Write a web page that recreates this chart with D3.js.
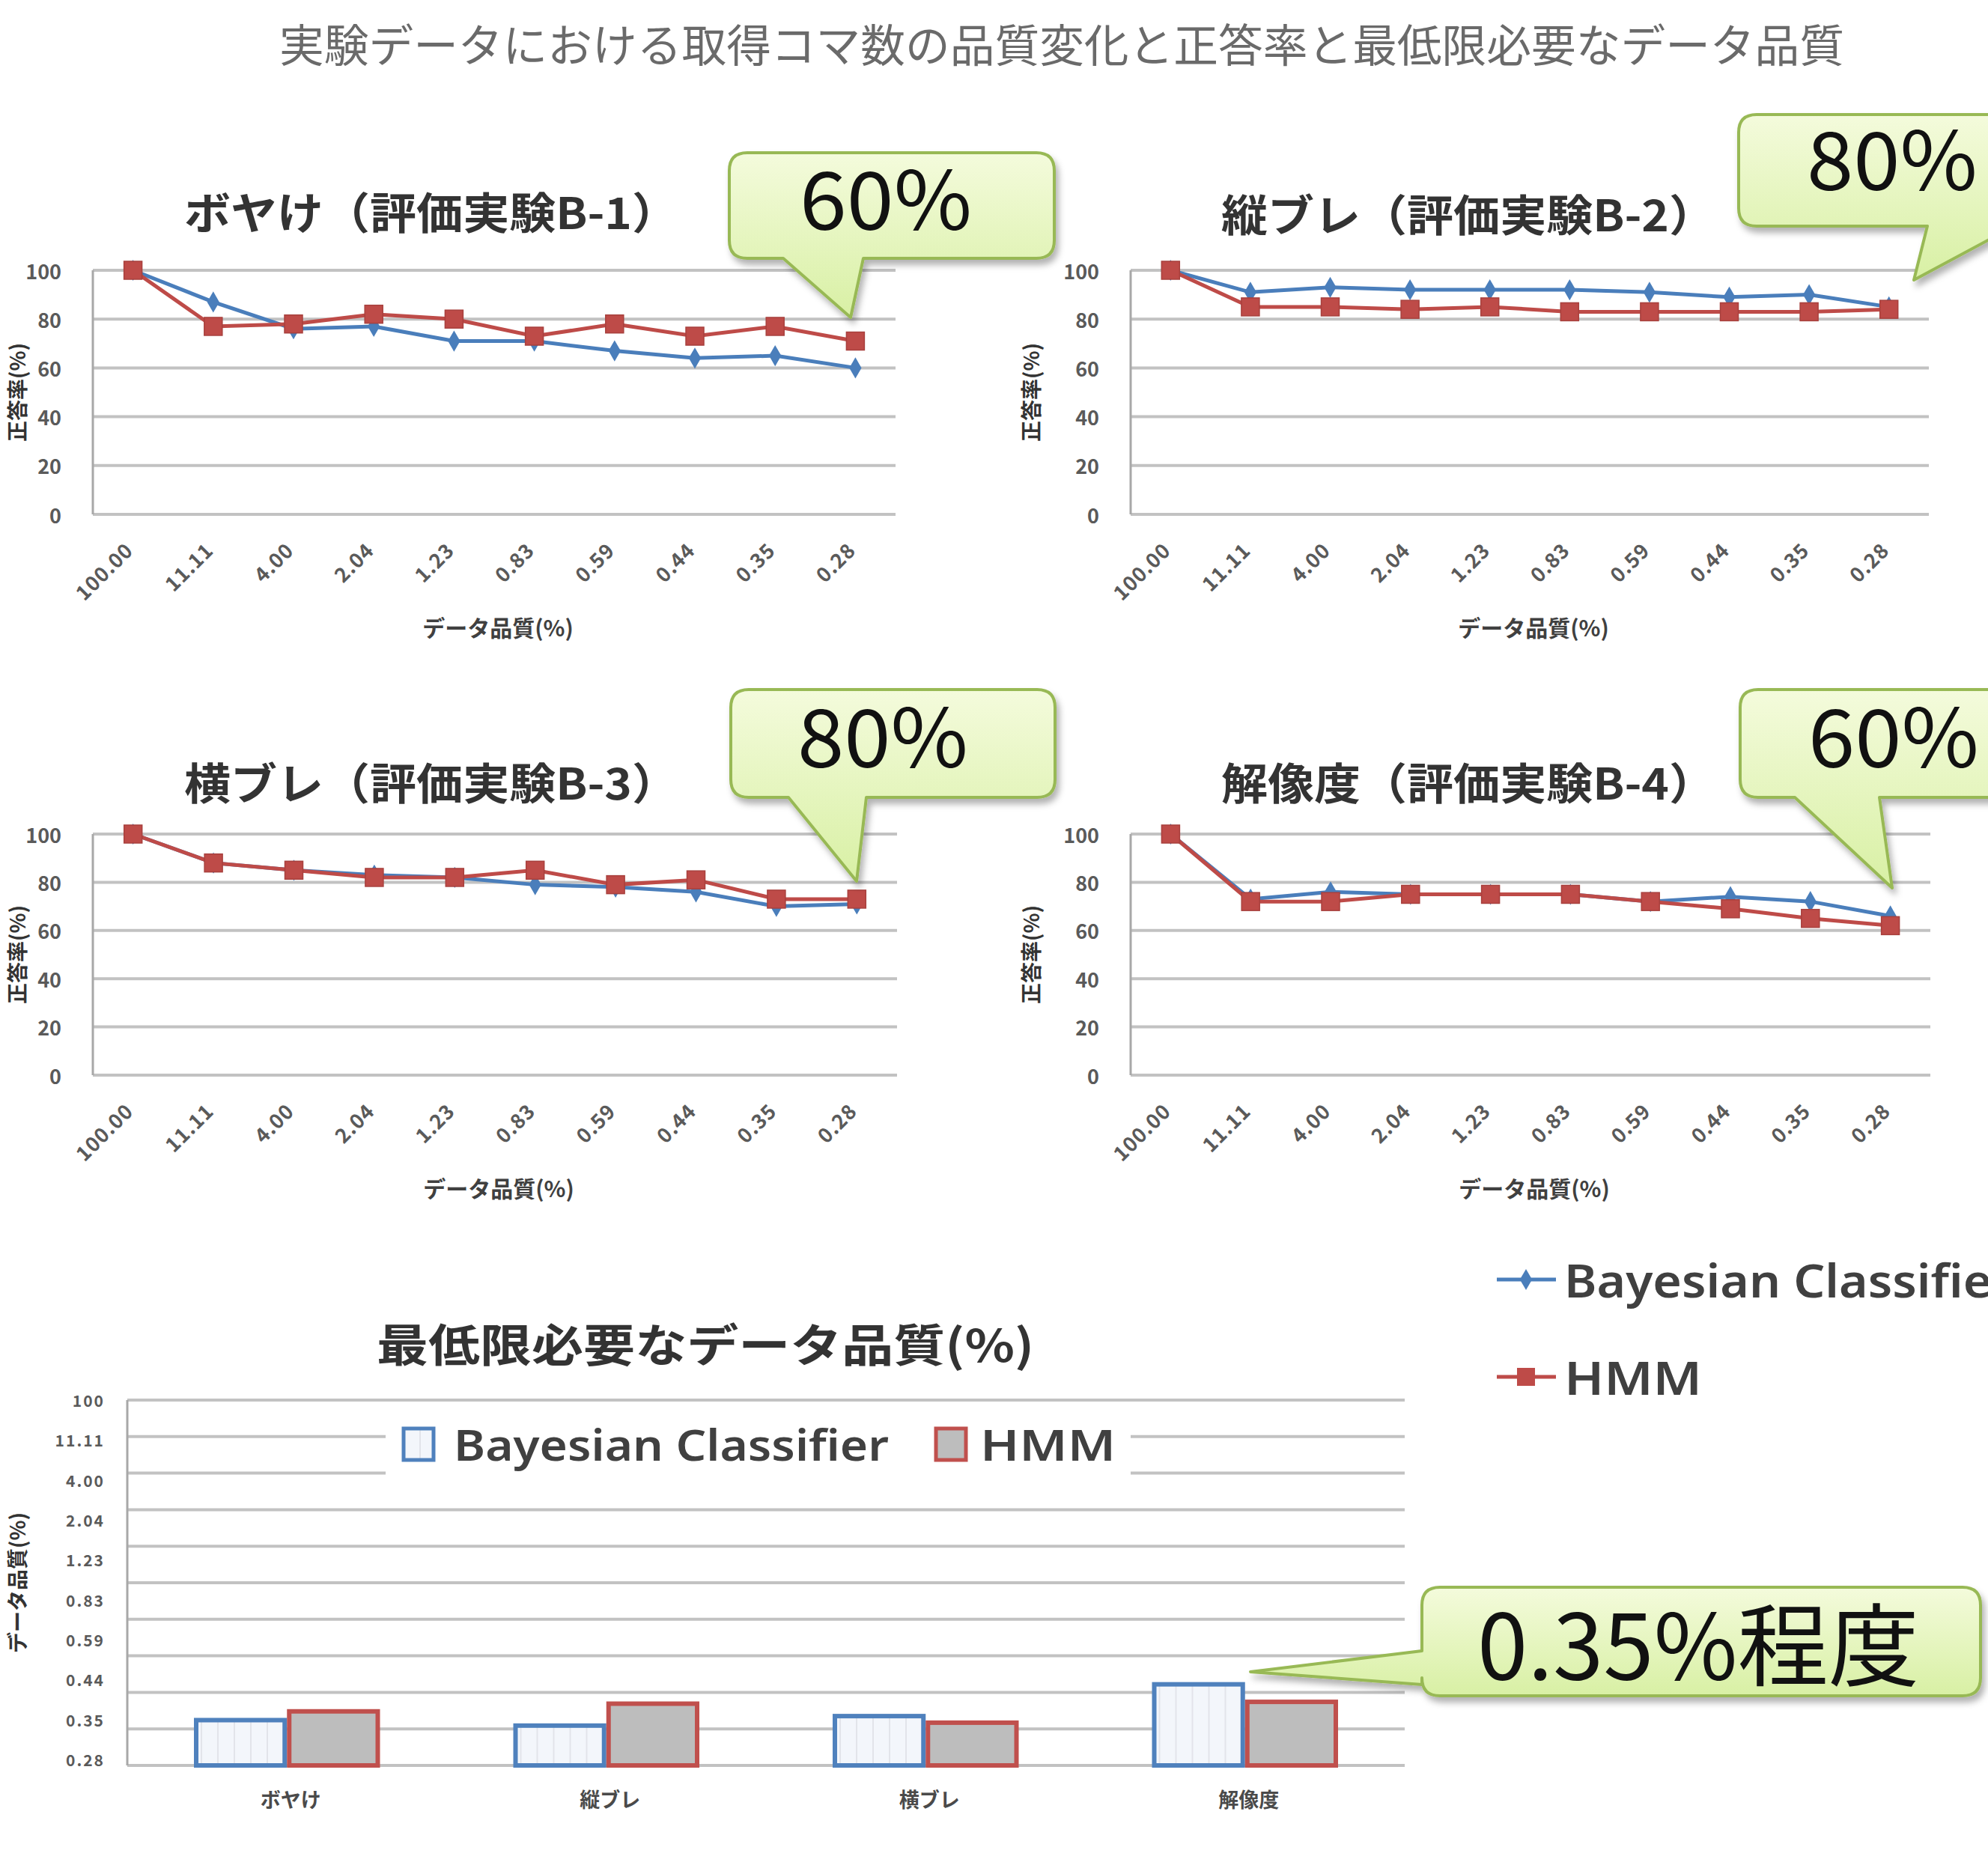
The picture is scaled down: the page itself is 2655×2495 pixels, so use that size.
<!DOCTYPE html>
<html>
<head>
<meta charset="utf-8">
<script src="https://cdn.jsdelivr.net/npm/d3@7"></script>
<style>
  html, body { margin: 0; padding: 0; background: #fff; overflow: hidden; }
  svg { display: block; }
</style>
</head>
<body>
<div id="chart"></div>
<script>
// data quality (%) on the x axis of every line chart
const qualityLabels = ['100.00', '11.11', '4.00', '2.04', '1.23', '0.83', '0.59', '0.44', '0.35', '0.28'];
const seriesNames = ['Bayesian Classifier', 'HMM'];

// accuracy (%) per experiment
const bayesBoke  = [100, 87, 76, 77, 71, 71, 67, 64, 65, 60];
const hmmBoke    = [100, 77, 78, 82, 80, 73, 78, 73, 77, 71];
const bayesTate  = [100, 91, 93, 92, 92, 92, 91, 89, 90, 85];
const hmmTate    = [100, 85, 85, 84, 85, 83, 83, 83, 83, 84];
const bayesYoko  = [100, 88, 85, 83, 82, 79, 78, 76, 70, 71];
const hmmYoko    = [100, 88, 85, 82, 82, 85, 79, 81, 73, 73];
const bayesKaizo = [100, 73, 76, 75, 75, 75, 72, 74, 72, 66];
const hmmKaizo   = [100, 72, 72, 75, 75, 75, 72, 69, 65, 62];

const panelTitles = ['ボヤけ（評価実験B-1）', '縦ブレ（評価実験B-2）', '横ブレ（評価実験B-3）', '解像度（評価実験B-4）'];
const calloutTexts = ['60%', '80%', '80%', '60%', '0.35%程度'];
const yTicks = [0, 20, 40, 60, 80, 100];

// minimum required data quality, in steps of the quality scale (0 = 0.28)
const barCats = ['ボヤけ', '縦ブレ', '横ブレ', '解像度'];
const barBayes = [1.24, 1.09, 1.35, 2.22];
const barHmm   = [1.48, 1.69, 1.17, 1.74];
const barTickLabels = ['100', '11.11', '4.00', '2.04', '1.23', '0.83', '0.59', '0.44', '0.35', '0.28'];

const W = 2655, H = 2495;
const BLUE = '#4a7ebb', RED = '#be4b48';
const JP = '"Noto Sans CJK JP", "Noto Sans", sans-serif';

const svg = d3.select('#chart').append('svg')
    .attr('width', W).attr('height', H)
    .style('font-family', JP);

svg.append('rect').attr('width', W).attr('height', H).attr('fill', '#fff');

const defs = svg.append('defs');
const grad = defs.append('linearGradient').attr('id', 'calloutFill')
    .attr('x1', 0).attr('y1', 0).attr('x2', 0).attr('y2', 1);
grad.append('stop').attr('offset', '0%').attr('stop-color', '#f4fbdc');
grad.append('stop').attr('offset', '100%').attr('stop-color', '#d8f0a4');

defs.append('filter').attr('id', 'shadow')
    .attr('x', '-10%').attr('y', '-10%').attr('width', '130%').attr('height', '140%')
    .append('feDropShadow')
    .attr('dx', 4).attr('dy', 7).attr('stdDeviation', 4)
    .attr('flood-color', '#000').attr('flood-opacity', 0.3);

const stripes = defs.append('pattern').attr('id', 'stripes')
    .attr('patternUnits', 'userSpaceOnUse').attr('width', 22).attr('height', 22);
stripes.append('rect').attr('width', 22).attr('height', 22).attr('fill', '#f3f6fb');
stripes.append('rect').attr('x', 10).attr('width', 2).attr('height', 22).attr('fill', '#e2e4ea');

// main title
svg.append('text')
    .attr('x', 1418).attr('y', 56)
    .attr('text-anchor', 'middle').attr('dominant-baseline', 'central')
    .attr('font-size', 60).attr('fill', '#6a6a6a')
    .attr('textLength', 2090).attr('lengthAdjust', 'spacingAndGlyphs')
    .text('実験データにおける取得コマ数の品質変化と正答率と最低限必要なデータ品質');

// ---- line charts ----
const panels = [
    { title: panelTitles[0], bayes: bayesBoke,  hmm: hmmBoke,  x0: 124,  x1: 1196, y0: 361,  y1: 687,  tx: 576,  ty: 281, yt: 22 },
    { title: panelTitles[1], bayes: bayesTate,  hmm: hmmTate,  x0: 1510, x1: 2576, y0: 361,  y1: 687,  tx: 1961, ty: 284, yt: 1376 },
    { title: panelTitles[2], bayes: bayesYoko,  hmm: hmmYoko,  x0: 124,  x1: 1198, y0: 1114, y1: 1436, tx: 576,  ty: 1043, yt: 22 },
    { title: panelTitles[3], bayes: bayesKaizo, hmm: hmmKaizo, x0: 1510, x1: 2578, y0: 1114, y1: 1436, tx: 1961, ty: 1043, yt: 1376 }
];

panels.forEach(p => {
    const g = svg.append('g');
    const x = d3.scaleBand().domain(qualityLabels).range([p.x0, p.x1]);
    const y = d3.scaleLinear().domain([0, 100]).range([p.y1, p.y0]);
    const cx = d => x(d) + x.bandwidth() / 2;

    g.selectAll('line.grid').data(yTicks).enter().append('line')
        .attr('class', 'grid')
        .attr('x1', p.x0).attr('x2', p.x1)
        .attr('y1', d => y(d)).attr('y2', d => y(d))
        .attr('stroke', '#c2c2c2').attr('stroke-width', 4);

    g.append('line')
        .attr('x1', p.x0).attr('x2', p.x0).attr('y1', p.y0).attr('y2', p.y1)
        .attr('stroke', '#a8a8a8').attr('stroke-width', 3);

    g.selectAll('text.ytick').data(yTicks).enter().append('text')
        .attr('class', 'ytick')
        .attr('x', p.x0 - 42).attr('y', d => y(d))
        .attr('text-anchor', 'end').attr('dominant-baseline', 'central')
        .attr('font-size', 27).attr('font-weight', 700).attr('fill', '#5a5a5a')
        .text(d => d);

    g.selectAll('text.xtick').data(qualityLabels).enter().append('text')
        .attr('class', 'xtick')
        .attr('transform', d => `translate(${cx(d) + 2},${p.y1 + 50}) rotate(-45)`)
        .attr('text-anchor', 'end')
        .attr('font-size', 27).attr('font-weight', 700).attr('fill', '#5a5a5a')
        .attr('letter-spacing', 1)
        .text(d => d);

    g.append('text')
        .attr('x', (p.x0 + p.x1) / 2 + 5).attr('y', p.y1 + 150)
        .attr('text-anchor', 'middle').attr('dominant-baseline', 'central')
        .attr('font-size', 30).attr('font-weight', 700).attr('fill', '#404040')
        .text('データ品質(%)');

    g.append('text')
        .attr('transform', `translate(${p.yt},${(p.y0 + p.y1) / 2}) rotate(-90)`)
        .attr('text-anchor', 'middle').attr('dominant-baseline', 'central')
        .attr('font-size', 28).attr('font-weight', 700).attr('fill', '#333')
        .text('正答率(%)');

    g.append('text')
        .attr('x', p.tx).attr('y', p.ty)
        .attr('text-anchor', 'middle').attr('dominant-baseline', 'central')
        .attr('font-size', 58).attr('font-weight', 700).attr('fill', '#333')
        .attr('textLength', 660).attr('lengthAdjust', 'spacingAndGlyphs')
        .text(p.title);

    const line = d3.line().x((d, i) => cx(qualityLabels[i])).y(d => y(d));

    g.append('path').datum(p.bayes)
        .attr('d', line).attr('fill', 'none')
        .attr('stroke', BLUE).attr('stroke-width', 5);
    g.selectAll('path.diamond').data(p.bayes).enter().append('path')
        .attr('class', 'diamond')
        .attr('d', d3.symbol().type(d3.symbolDiamond).size(230))
        .attr('transform', (d, i) => `translate(${cx(qualityLabels[i])},${y(d)})`)
        .attr('fill', BLUE);

    g.append('path').datum(p.hmm)
        .attr('d', line).attr('fill', 'none')
        .attr('stroke', RED).attr('stroke-width', 5);
    g.selectAll('rect.sq').data(p.hmm).enter().append('rect')
        .attr('class', 'sq')
        .attr('x', (d, i) => cx(qualityLabels[i]) - 12)
        .attr('y', d => y(d) - 12)
        .attr('width', 24).attr('height', 24)
        .attr('fill', RED).attr('stroke', '#a8403d').attr('stroke-width', 1.5);
});

// right legend of the line charts
const legendRows = [
    { name: seriesNames[0], color: BLUE, y: 1709, marker: 'diamond', len: 600 },
    { name: seriesNames[1], color: RED, y: 1839, marker: 'square', len: 184 }
];
legendRows.forEach(r => {
    const g = svg.append('g');
    g.append('line').attr('x1', 1999).attr('x2', 2078).attr('y1', r.y).attr('y2', r.y)
        .attr('stroke', r.color).attr('stroke-width', 5);
    if (r.marker === 'diamond') {
        g.append('path').attr('d', d3.symbol().type(d3.symbolDiamond).size(230))
            .attr('transform', `translate(2038,${r.y})`).attr('fill', r.color);
    } else {
        g.append('rect').attr('x', 2026).attr('y', r.y - 12).attr('width', 24).attr('height', 24)
            .attr('fill', r.color);
    }
    g.append('text').attr('x', 2089).attr('y', r.y).attr('dominant-baseline', 'central')
        .attr('font-family', '"Noto Sans", sans-serif')
        .attr('font-size', 62).attr('font-weight', 600).attr('fill', '#404040')
        .attr('textLength', r.len).attr('lengthAdjust', 'spacingAndGlyphs')
        .text(r.name);
});

// ---- bar chart ----
const bx0 = 170, bx1 = 1876, by0 = 1870, by1 = 2358;
const bg = svg.append('g');
const xb = d3.scaleBand().domain(barCats).range([bx0, bx1]);
const xin = d3.scaleBand().domain(seriesNames).range([89, xb.bandwidth() - 89]);
const yb = d3.scaleLinear().domain([0, 10]).range([by1, by0]);
const yLab = d3.scalePoint().domain(barTickLabels).range([by0, by1 - 8]);

bg.selectAll('line.grid').data(d3.range(0, 11)).enter().append('line')
    .attr('x1', bx0).attr('x2', bx1)
    .attr('y1', d => yb(d)).attr('y2', d => yb(d))
    .attr('stroke', '#c2c2c2').attr('stroke-width', 4);
bg.append('line').attr('x1', bx0).attr('x2', bx0).attr('y1', by0).attr('y2', by1)
    .attr('stroke', '#a8a8a8').attr('stroke-width', 3);

bg.selectAll('text.ytick').data(barTickLabels).enter().append('text')
    .attr('x', 140).attr('y', d => yLab(d))
    .attr('text-anchor', 'end').attr('dominant-baseline', 'central')
    .attr('font-size', 21).attr('font-weight', 700).attr('fill', '#5a5a5a')
    .attr('letter-spacing', 2)
    .text(d => d);

bg.selectAll('text.cat').data(barCats).enter().append('text')
    .attr('x', d => xb(d) + xb.bandwidth() / 2 + 5).attr('y', 2402)
    .attr('text-anchor', 'middle').attr('dominant-baseline', 'central')
    .attr('font-size', 27).attr('font-weight', 700).attr('fill', '#4a4a4a')
    .text(d => d);

const barRows = barCats.map((c, i) => ({ cat: c, vals: [barBayes[i], barHmm[i]] }));
const barStyle = [
    { fill: 'url(#stripes)', stroke: '#4f81bd' },
    { fill: '#bdbdbd', stroke: '#c0504d' }
];
bg.selectAll('g.cat').data(barRows).enter().append('g')
    .attr('transform', d => `translate(${xb(d.cat)},0)`)
    .selectAll('rect').data(d => d.vals).enter().append('rect')
    .attr('x', (d, i) => xin(seriesNames[i]) + 3)
    .attr('width', xin.bandwidth() - 6)
    .attr('y', d => yb(d))
    .attr('height', d => by1 - yb(d))
    .attr('fill', (d, i) => barStyle[i].fill)
    .attr('stroke', (d, i) => barStyle[i].stroke)
    .attr('stroke-width', 6);

// inline legend of the bar chart
bg.append('rect').attr('x', 515).attr('y', 1884).attr('width', 995).attr('height', 88).attr('fill', '#fff');
const barLegend = [
    { name: seriesNames[0], x: 539, tx: 606, len: 581 },
    { name: seriesNames[1], x: 1250, tx: 1309, len: 181 }
];
barLegend.forEach((l, i) => {
    bg.append('rect').attr('x', l.x).attr('y', 1908).attr('width', 40).attr('height', 42)
        .attr('fill', barStyle[i].fill).attr('stroke', barStyle[i].stroke).attr('stroke-width', 5);
    bg.append('text').attr('x', l.tx).attr('y', 1928).attr('dominant-baseline', 'central')
        .attr('font-family', '"Noto Sans", sans-serif')
        .attr('font-size', 58).attr('font-weight', 600).attr('fill', '#404040')
        .attr('textLength', l.len).attr('lengthAdjust', 'spacingAndGlyphs')
        .text(l.name);
});

bg.append('text')
    .attr('x', 942).attr('y', 1792)
    .attr('text-anchor', 'middle').attr('dominant-baseline', 'central')
    .attr('font-size', 60).attr('font-weight', 700).attr('fill', '#333')
    .attr('textLength', 878).attr('lengthAdjust', 'spacingAndGlyphs')
    .text('最低限必要なデータ品質(%)');

bg.append('text')
    .attr('transform', `translate(22,${(by0 + by1) / 2}) rotate(-90)`)
    .attr('text-anchor', 'middle').attr('dominant-baseline', 'central')
    .attr('font-size', 28).attr('font-weight', 700).attr('fill', '#333')
    .text('データ品質(%)');

// ---- callouts ----
function calloutPath(b, tail) {
    const r = 24, L = b.x, T = b.y, R = b.x + b.w, B = b.y + b.h;
    const p = d3.path();
    p.moveTo(L + r, T);
    p.lineTo(R - r, T);
    p.quadraticCurveTo(R, T, R, T + r);
    p.lineTo(R, B - r);
    p.quadraticCurveTo(R, B, R - r, B);
    if (tail.side === 'bottom') {
        p.lineTo(tail.b, B);
        p.lineTo(tail.tip[0], tail.tip[1]);
        p.lineTo(tail.a, B);
    }
    p.lineTo(L + r, B);
    p.quadraticCurveTo(L, B, L, B - r);
    if (tail.side === 'left') {
        p.lineTo(L, tail.b);
        p.lineTo(tail.tip[0], tail.tip[1]);
        p.lineTo(L, tail.a);
    }
    p.lineTo(L, T + r);
    p.quadraticCurveTo(L, T, L + r, T);
    p.closePath();
    return p.toString();
}

const callouts = [
    { text: calloutTexts[0], box: { x: 974, y: 204, w: 434, h: 141 }, tail: { side: 'bottom', a: 1046, b: 1153, tip: [1136, 424] }, tx: 1183, ty: 307, fs: 108, len: 230 },
    { text: calloutTexts[1], box: { x: 2322, y: 153, w: 400, h: 149 }, tail: { side: 'bottom', a: 2574, b: 2690, tip: [2556, 374] }, tx: 2527, ty: 254, fs: 108, len: 228 },
    { text: calloutTexts[2], box: { x: 976, y: 921, w: 433, h: 144 }, tail: { side: 'bottom', a: 1053, b: 1157, tip: [1144, 1177] }, tx: 1179, ty: 1025, fs: 108, len: 228 },
    { text: calloutTexts[3], box: { x: 2324, y: 921, w: 400, h: 144 }, tail: { side: 'bottom', a: 2397, b: 2510, tip: [2527, 1186] }, tx: 2529, ty: 1025, fs: 108, len: 228 },
    { text: calloutTexts[4], box: { x: 1899, y: 2120, w: 746, h: 145 }, tail: { side: 'left', a: 2205, b: 2250, tip: [1670, 2233] }, tx: 2268, ty: 2243, fs: 120, len: 590 }
];

callouts.forEach(c => {
    const g = svg.append('g');
    g.append('path').attr('d', calloutPath(c.box, c.tail))
        .attr('fill', 'url(#calloutFill)')
        .attr('stroke', '#98b954').attr('stroke-width', 4)
        .attr('stroke-linejoin', 'round')
        .attr('filter', 'url(#shadow)');
    g.append('text').attr('x', c.tx).attr('y', c.ty)
        .attr('text-anchor', 'middle')
        .attr('font-size', c.fs).attr('fill', '#111')
        .attr('textLength', c.len).attr('lengthAdjust', 'spacingAndGlyphs')
        .text(c.text);
});
</script>
</body>
</html>
